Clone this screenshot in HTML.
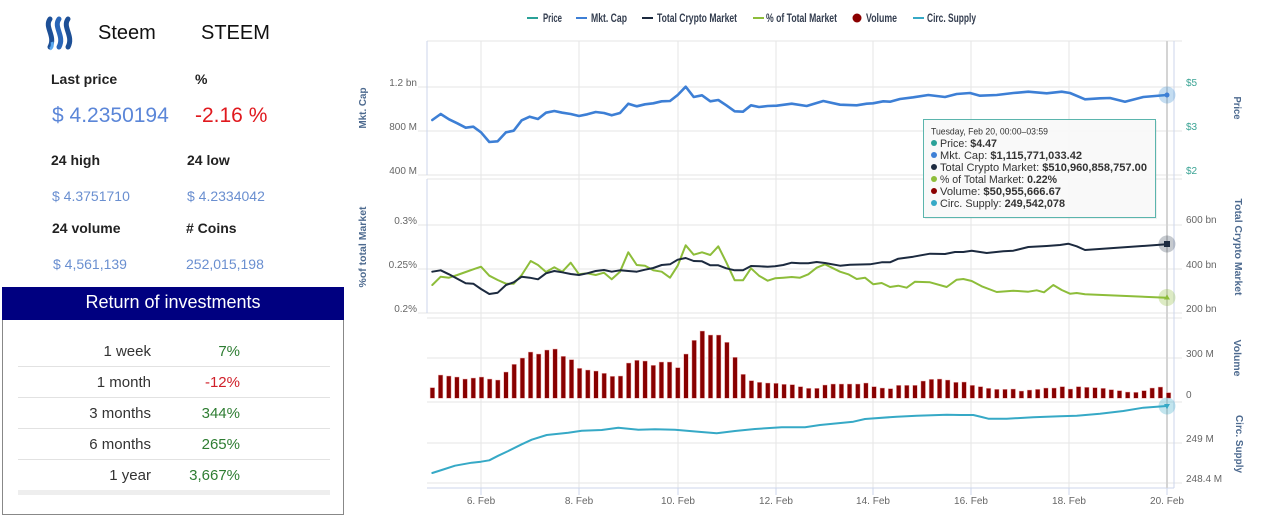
<!DOCTYPE html>
<html><head><meta charset="utf-8">
<style>
html,body{margin:0;padding:0;background:#fff;}
body{width:1262px;height:530px;position:relative;overflow:hidden;font-family:"Liberation Sans",Arial,sans-serif;}
.a{position:absolute;white-space:nowrap;line-height:1;}
.b{font-weight:bold;color:#222;font-size:14px;}
.blue{color:#6a8fd0;font-size:14px;}
.row{position:absolute;left:18px;width:312px;height:31px;border-bottom:1px solid #e2e2e2;}
.row .k{position:absolute;right:179px;top:8px;font-size:15px;color:#333;}
.row .v{position:absolute;right:90px;top:8px;font-size:15px;color:#2e7d32;}
</style></head><body>

<svg class="a" style="left:40px;top:14px" width="44" height="40" viewBox="0 0 44 40">
<path d="M10 5 C4 13,16 22,10 33" stroke="#1d4f96" stroke-width="5" fill="none" stroke-linecap="round"/>
<path d="M19 5 C13 13,25 22,19 33" stroke="#2a66b8" stroke-width="5" fill="none" stroke-linecap="round"/>
<path d="M28 5 C22 13,34 22,28 33" stroke="#1d4f96" stroke-width="5" fill="none" stroke-linecap="round"/>
<path d="M12 28 C13 31,12 34,10 35" stroke="#58a8f0" stroke-width="3" fill="none"/>
</svg>
<div class="a" style="left:98px;top:23px;font-size:20px;color:#111;">Steem</div>
<div class="a" style="left:201px;top:23px;font-size:20px;color:#111;">STEEM</div>

<div class="a b" style="left:51px;top:72px;">Last price</div>
<div class="a b" style="left:195px;top:72px;">%</div>
<div class="a" style="left:52px;top:105px;font-size:21px;color:#5b86d8;">$ 4.2350194</div>
<div class="a" style="left:195px;top:105px;font-size:21px;color:#e0191e;">-2.16 %</div>

<div class="a b" style="left:51px;top:153px;">24 high</div>
<div class="a b" style="left:187px;top:153px;">24 low</div>
<div class="a blue" style="left:52px;top:189px;">$ 4.3751710</div>
<div class="a blue" style="left:187px;top:189px;">$ 4.2334042</div>

<div class="a b" style="left:52px;top:221px;">24 volume</div>
<div class="a b" style="left:186px;top:221px;">&#35; Coins</div>
<div class="a blue" style="left:53px;top:257px;">$ 4,561,139</div>
<div class="a blue" style="left:186px;top:257px;">252,015,198</div>

<div class="a" style="left:2px;top:287px;width:340px;height:227px;border:1px solid #888;border-top:none;"></div>
<div class="a" style="left:2px;top:287px;width:342px;height:33px;background:#000080;"></div>
<div class="a" style="left:2px;top:293px;width:342px;text-align:center;font-size:18px;color:#fff;">Return of investments</div>

<div class="row" style="top:335px;"><span class="k">1 week</span><span class="v">7%</span></div>
<div class="row" style="top:366px;"><span class="k">1 month</span><span class="v" style="color:#d0202a">-12%</span></div>
<div class="row" style="top:397px;"><span class="k">3 months</span><span class="v">344%</span></div>
<div class="row" style="top:428px;"><span class="k">6 months</span><span class="v">265%</span></div>
<div class="row" style="top:459px;"><span class="k">1 year</span><span class="v">3,667%</span></div>
<div class="a" style="left:18px;top:490px;width:312px;height:5px;background:#eeeeee;"></div>

<svg class="a" style="left:0;top:0" width="1262" height="530" viewBox="0 0 1262 530" font-family="Liberation Sans, Arial, sans-serif">
<!-- legend -->
<g font-size="11.5" font-weight="bold" fill="#333d4f">
<line x1="527" y1="18" x2="538" y2="18" stroke="#2aa198" stroke-width="2"/>
<text x="543" y="22" textLength="19" lengthAdjust="spacingAndGlyphs">Price</text>
<line x1="576" y1="18" x2="587" y2="18" stroke="#3d7fd5" stroke-width="2"/>
<text x="591" y="22" textLength="36" lengthAdjust="spacingAndGlyphs">Mkt. Cap</text>
<line x1="642" y1="18" x2="653" y2="18" stroke="#1c2a3f" stroke-width="2"/>
<text x="657" y="22" textLength="80" lengthAdjust="spacingAndGlyphs">Total Crypto Market</text>
<line x1="753" y1="18" x2="764" y2="18" stroke="#8dbd3a" stroke-width="2"/>
<text x="766" y="22" textLength="71" lengthAdjust="spacingAndGlyphs">% of Total Market</text>
<circle cx="857" cy="18" r="4.5" fill="#8b0000"/>
<text x="866" y="22" textLength="31" lengthAdjust="spacingAndGlyphs">Volume</text>
<line x1="913" y1="18" x2="924" y2="18" stroke="#36a9c6" stroke-width="2"/>
<text x="927" y="22" textLength="49" lengthAdjust="spacingAndGlyphs">Circ. Supply</text>
</g>

<!-- grid -->
<g stroke="#e6e6e6" stroke-width="1">
<line x1="427" y1="41" x2="1182" y2="41"/>
<line x1="418" y1="87" x2="1182" y2="87"/>
<line x1="418" y1="131" x2="1182" y2="131"/>
<line x1="418" y1="175" x2="1182" y2="175"/>
<line x1="427" y1="179" x2="1182" y2="179"/>
<line x1="418" y1="225" x2="1182" y2="225"/>
<line x1="418" y1="269" x2="1182" y2="269"/>
<line x1="418" y1="313" x2="1182" y2="313"/>
<line x1="427" y1="318" x2="1182" y2="318"/>
<line x1="427" y1="358" x2="1182" y2="358"/>
<line x1="427" y1="402" x2="1182" y2="402"/>
<line x1="427" y1="443" x2="1182" y2="443"/>
<line x1="427" y1="483" x2="1182" y2="483"/>
<line x1="481" y1="41" x2="481" y2="488"/>
<line x1="579" y1="41" x2="579" y2="488"/>
<line x1="678" y1="41" x2="678" y2="488"/>
<line x1="776" y1="41" x2="776" y2="488"/>
<line x1="873" y1="41" x2="873" y2="488"/>
<line x1="971" y1="41" x2="971" y2="488"/>
<line x1="1069" y1="41" x2="1069" y2="488"/>
</g>
<g stroke="#ccd6eb" stroke-width="1">
<line x1="427" y1="41" x2="427" y2="175"/>
<line x1="427" y1="179" x2="427" y2="313"/>
<line x1="1174" y1="41" x2="1174" y2="488"/>
<line x1="427" y1="488" x2="1174" y2="488"/>
<line x1="481" y1="488" x2="481" y2="495"/>
<line x1="579" y1="488" x2="579" y2="495"/>
<line x1="678" y1="488" x2="678" y2="495"/>
<line x1="776" y1="488" x2="776" y2="495"/>
<line x1="873" y1="488" x2="873" y2="495"/>
<line x1="971" y1="488" x2="971" y2="495"/>
<line x1="1069" y1="488" x2="1069" y2="495"/>
<line x1="1167" y1="488" x2="1167" y2="495"/>
</g>
<!-- crosshair -->
<line x1="1167" y1="41" x2="1167" y2="488" stroke="#d4d4d4" stroke-width="2"/>

<!-- axis labels -->
<g font-size="10" fill="#666">
<text x="417" y="86" text-anchor="end">1.2 bn</text>
<text x="417" y="130" text-anchor="end">800 M</text>
<text x="417" y="174" text-anchor="end">400 M</text>
<text x="417" y="224" text-anchor="end">0.3%</text>
<text x="417" y="268" text-anchor="end">0.25%</text>
<text x="417" y="312" text-anchor="end">0.2%</text>
<text x="1186" y="223">600 bn</text>
<text x="1186" y="268">400 bn</text>
<text x="1186" y="312">200 bn</text>
<text x="1186" y="357">300 M</text>
<text x="1186" y="398">0</text>
<text x="1186" y="442">249 M</text>
<text x="1186" y="482">248.4 M</text>
<text x="481" y="504" text-anchor="middle">6. Feb</text>
<text x="579" y="504" text-anchor="middle">8. Feb</text>
<text x="678" y="504" text-anchor="middle">10. Feb</text>
<text x="776" y="504" text-anchor="middle">12. Feb</text>
<text x="873" y="504" text-anchor="middle">14. Feb</text>
<text x="971" y="504" text-anchor="middle">16. Feb</text>
<text x="1069" y="504" text-anchor="middle">18. Feb</text>
<text x="1167" y="504" text-anchor="middle">20. Feb</text>
</g>
<g font-size="10" fill="#3aa394">
<text x="1186" y="86">$5</text>
<text x="1186" y="130">$3</text>
<text x="1186" y="174">$2</text>
</g>
<!-- axis titles -->
<g font-size="10" font-weight="bold" fill="#4d6a8f">
<text transform="translate(366,108) rotate(-90)" text-anchor="middle" textLength="41" lengthAdjust="spacingAndGlyphs">Mkt. Cap</text>
<text transform="translate(366,247) rotate(-90)" text-anchor="middle" textLength="81" lengthAdjust="spacingAndGlyphs">%of total Market</text>
<text transform="translate(1234,108) rotate(90)" text-anchor="middle" textLength="23" lengthAdjust="spacingAndGlyphs">Price</text>
<text transform="translate(1235,247) rotate(90)" text-anchor="middle" textLength="97" lengthAdjust="spacingAndGlyphs">Total Crypto Market</text>
<text transform="translate(1234,358) rotate(90)" text-anchor="middle" textLength="37" lengthAdjust="spacingAndGlyphs">Volume</text>
<text transform="translate(1236,444) rotate(90)" text-anchor="middle" textLength="58" lengthAdjust="spacingAndGlyphs">Circ. Supply</text>
</g>

<!-- volume bars -->
<g fill="#880000" stroke="#f2b8b8" stroke-width="0.5">
<rect x="430.1" y="387.6" width="4.6" height="10.7"/>
<rect x="438.3" y="375.0" width="4.6" height="23.3"/>
<rect x="446.5" y="376.0" width="4.6" height="22.3"/>
<rect x="454.6" y="377.0" width="4.6" height="21.3"/>
<rect x="462.8" y="379.0" width="4.6" height="19.3"/>
<rect x="471.0" y="378.0" width="4.6" height="20.3"/>
<rect x="479.2" y="377.0" width="4.6" height="21.3"/>
<rect x="487.4" y="379.0" width="4.6" height="19.3"/>
<rect x="495.5" y="380.0" width="4.6" height="18.3"/>
<rect x="503.7" y="372.0" width="4.6" height="26.3"/>
<rect x="511.9" y="364.3" width="4.6" height="34"/>
<rect x="520.1" y="358.0" width="4.6" height="40.3"/>
<rect x="528.3" y="352.0" width="4.6" height="46.3"/>
<rect x="536.4" y="354.0" width="4.6" height="44.3"/>
<rect x="544.6" y="350.0" width="4.6" height="48.3"/>
<rect x="552.8" y="349.0" width="4.6" height="49.3"/>
<rect x="561.0" y="356.3" width="4.6" height="42"/>
<rect x="569.2" y="359.6" width="4.6" height="38.7"/>
<rect x="577.3" y="368.3" width="4.6" height="30"/>
<rect x="585.5" y="370.0" width="4.6" height="28.3"/>
<rect x="593.7" y="371.0" width="4.6" height="27.3"/>
<rect x="601.9" y="373.3" width="4.6" height="25"/>
<rect x="610.1" y="376.3" width="4.6" height="22"/>
<rect x="618.2" y="376.0" width="4.6" height="22.3"/>
<rect x="626.4" y="363.0" width="4.6" height="35.3"/>
<rect x="634.6" y="360.3" width="4.6" height="38"/>
<rect x="642.8" y="361.0" width="4.6" height="37.3"/>
<rect x="651.0" y="365.3" width="4.6" height="33"/>
<rect x="659.1" y="362.0" width="4.6" height="36.3"/>
<rect x="667.3" y="362.0" width="4.6" height="36.3"/>
<rect x="675.5" y="367.6" width="4.6" height="30.7"/>
<rect x="683.7" y="354.0" width="4.6" height="44.3"/>
<rect x="691.9" y="340.3" width="4.6" height="58"/>
<rect x="700.0" y="331.0" width="4.6" height="67.3"/>
<rect x="708.2" y="335.0" width="4.6" height="63.3"/>
<rect x="716.4" y="335.0" width="4.6" height="63.3"/>
<rect x="724.6" y="342.3" width="4.6" height="56"/>
<rect x="732.8" y="357.3" width="4.6" height="41"/>
<rect x="740.9" y="374.3" width="4.6" height="24"/>
<rect x="749.1" y="380.6" width="4.6" height="17.7"/>
<rect x="757.3" y="382.3" width="4.6" height="16"/>
<rect x="765.5" y="383.0" width="4.6" height="15.3"/>
<rect x="773.7" y="383.3" width="4.6" height="15"/>
<rect x="781.8" y="384.3" width="4.6" height="14"/>
<rect x="790.0" y="384.6" width="4.6" height="13.7"/>
<rect x="798.2" y="386.6" width="4.6" height="11.7"/>
<rect x="806.4" y="388.3" width="4.6" height="10"/>
<rect x="814.6" y="388.3" width="4.6" height="10"/>
<rect x="822.7" y="385.0" width="4.6" height="13.3"/>
<rect x="830.9" y="384.0" width="4.6" height="14.3"/>
<rect x="839.1" y="384.0" width="4.6" height="14.3"/>
<rect x="847.3" y="384.0" width="4.6" height="14.3"/>
<rect x="855.5" y="384.0" width="4.6" height="14.3"/>
<rect x="863.6" y="383.0" width="4.6" height="15.3"/>
<rect x="871.8" y="386.6" width="4.6" height="11.7"/>
<rect x="880.0" y="388.0" width="4.6" height="10.3"/>
<rect x="888.2" y="388.6" width="4.6" height="9.7"/>
<rect x="896.4" y="385.3" width="4.6" height="13"/>
<rect x="904.5" y="385.3" width="4.6" height="13"/>
<rect x="912.7" y="385.3" width="4.6" height="13"/>
<rect x="920.9" y="381.0" width="4.6" height="17.3"/>
<rect x="929.1" y="379.3" width="4.6" height="19"/>
<rect x="937.3" y="379.0" width="4.6" height="19.3"/>
<rect x="945.4" y="380.0" width="4.6" height="18.3"/>
<rect x="953.6" y="382.3" width="4.6" height="16"/>
<rect x="961.8" y="382.0" width="4.6" height="16.3"/>
<rect x="970.0" y="385.3" width="4.6" height="13"/>
<rect x="978.2" y="386.6" width="4.6" height="11.7"/>
<rect x="986.3" y="388.3" width="4.6" height="10"/>
<rect x="994.5" y="389.3" width="4.6" height="9"/>
<rect x="1002.7" y="389.3" width="4.6" height="9"/>
<rect x="1010.9" y="389.0" width="4.6" height="9.3"/>
<rect x="1019.1" y="391.0" width="4.6" height="7.3"/>
<rect x="1027.2" y="390.0" width="4.6" height="8.3"/>
<rect x="1035.4" y="389.3" width="4.6" height="9"/>
<rect x="1043.6" y="388.0" width="4.6" height="10.3"/>
<rect x="1051.8" y="388.0" width="4.6" height="10.3"/>
<rect x="1060.0" y="386.6" width="4.6" height="11.7"/>
<rect x="1068.1" y="389.0" width="4.6" height="9.3"/>
<rect x="1076.3" y="386.6" width="4.6" height="11.7"/>
<rect x="1084.5" y="387.3" width="4.6" height="11"/>
<rect x="1092.7" y="387.6" width="4.6" height="10.7"/>
<rect x="1100.9" y="388.3" width="4.6" height="10"/>
<rect x="1109.0" y="389.6" width="4.6" height="8.7"/>
<rect x="1117.2" y="390.6" width="4.6" height="7.7"/>
<rect x="1125.4" y="392.0" width="4.6" height="6.3"/>
<rect x="1133.6" y="392.3" width="4.6" height="6"/>
<rect x="1141.8" y="390.6" width="4.6" height="7.7"/>
<rect x="1149.9" y="388.0" width="4.6" height="10.3"/>
<rect x="1158.1" y="387.0" width="4.6" height="11.3"/>
<rect x="1166.3" y="392.6" width="4.6" height="5.7"/>
</g>

<!-- series -->
<g fill="none" stroke-linejoin="round" stroke-linecap="round">
<polyline stroke="#3d7fd5" stroke-width="2.6" points="432.3,120 440.7,114 449,119.3 457.3,123.3 465.7,127.7 473.3,126.7 481,132.3 489.3,142 497.7,141.3 506,132.3 513.7,130.7 521.7,120.3 529.7,116.7 538,119 546,112.7 554.3,111 562.3,112.7 570.7,114 579,116 587.3,114.3 595.7,112 604,113 611.7,115.3 620,113 628.3,103.7 636.7,106.3 645,104.3 653.3,103.3 661.7,101.3 670,101 677.7,95 685.7,86.7 693.7,97 702,95.3 710.3,101.3 718.3,100 726.3,105.3 734.7,111.3 743,111.7 751,105.3 759,107 767.7,106 776.7,105.7 791.7,103.7 806.7,106 823.3,101 840,104.7 856.7,105.3 866.7,103.7 873,103.3 883.3,101.3 890,101.7 900,99 913.3,97.3 928.3,95 945,97 956.7,94 970,93 980,95.7 996.7,95 1013.3,93 1028.3,91.7 1046.7,93.3 1061.7,91.7 1070,93 1085,99.3 1100,98.3 1110,98 1125,101.7 1143.3,97 1166.7,95"/>
<polyline stroke="#8dbd3a" stroke-width="2" points="432.3,285 440.7,276.7 449,277.7 457.3,275 465.7,272 473.3,269.3 481,266.7 489.3,275.7 497.7,280 506,283.7 513.7,283.7 521.7,275 530.7,261 538,265 546,272 554.3,267.3 562.3,271.7 570.7,262.7 579,274.3 587.3,273.3 595.7,275 604,272.7 611.7,279.3 620,271.7 628.3,252.3 636.7,265 645,265.7 653.3,270.3 661.7,271.7 670,277.7 677.7,265.7 685.7,245.3 693.7,254.7 702,252.3 710.3,255 718.3,246.3 726.3,262.3 734.7,280.3 743,280.3 751,268.3 759,275.7 767.7,280.7 775,278.3 783.3,277.7 791.7,277 800,277.7 808.3,274.3 816.7,267.7 825,264.3 840,271.7 848.3,274.3 856.7,279 865,277.7 873.3,284.3 881.7,283 890,287 898.3,285.7 906.7,287.7 915,281.7 930,282.3 946.7,287 956.7,279.7 963.3,279 971.7,281 981.7,286.3 996.7,292 1013.3,290.7 1028.3,291.7 1036.7,290.3 1044,292.3 1053.3,285 1061.7,290 1070,293.7 1076.7,293 1085,294.3 1166.7,297.7"/>
<polyline stroke="#1c2a3f" stroke-width="2" points="432.3,271.7 440.7,270.3 449,274.3 457.3,278.7 465.7,283.3 473.3,283.7 481,289 489.3,294 497.7,292.7 506,285 513.7,282.3 521.7,276.7 529.7,277.7 538,279.3 546,273.3 554.3,271 562.3,272.3 570.7,274 579,275 587.3,273.3 595.7,271 604,270 611.7,271.7 620,270.3 628.3,271 636.7,271.7 645,269.7 653.3,268 661.7,265 670,264.3 677.7,259.7 685.7,258 693.7,261 702,261.3 710.3,265.3 718.3,265.3 726.3,268.3 734.7,270.3 743,270.3 751,266 759,266.3 767.7,266.7 775,266.3 783.3,265 791.7,262.7 800,263.3 808.3,263.3 816.7,262 825,263 840,265.7 850,264.7 870,264.3 881.7,262.3 890,262.3 898.3,258.7 913.3,256.7 930,253.7 945,254 955,252 963.3,252 971.7,250.7 986.7,253 1003.3,251.3 1013.3,250.7 1028.3,247 1046.7,246 1060,245 1068.3,243.7 1076.7,246.3 1085,250 1166.7,244.3"/>
<polyline stroke="#36a9c6" stroke-width="2" points="432.3,473 441.7,470 455,465.7 471.7,462.7 481,461.7 489.3,460.3 498.3,455.7 508.3,451 521.7,444.3 531.7,439.7 546.7,435 568.3,432.7 581.7,430.7 601.7,430 618.3,427.7 638.3,429.7 655,429.3 675,429.7 698.3,431.7 716.7,433.3 735,431 755,429 781.7,427.3 805,427.3 820,425 853.3,421.7 865,419 896.7,416.7 916.7,415.7 946.7,414.7 960,415 973.3,415 981.7,417 988.3,418.7 1006.7,418.7 1033.3,417.3 1060,416.3 1076.7,415.7 1100,413.7 1123.3,411 1143.3,407.7 1166.7,406"/>
</g>

<!-- hover markers -->
<circle cx="1167" cy="95" r="8.5" fill="#3d8fd0" fill-opacity="0.3"/>
<circle cx="1167" cy="95" r="2.5" fill="#3d7fd5"/>
<circle cx="1167" cy="244" r="8.5" fill="#1c2a3f" fill-opacity="0.25"/>
<rect x="1164" y="241" width="6" height="6" fill="#1c2a3f"/>
<circle cx="1167" cy="297.5" r="8.5" fill="#8dbd3a" fill-opacity="0.3"/>
<path d="M1167 294.5 L1170 299.5 L1164 299.5 Z" fill="#8dbd3a"/>
<circle cx="1167" cy="406" r="8.5" fill="#36a9c6" fill-opacity="0.3"/>
<path d="M1164 404 L1170 404 L1167 409 Z" fill="#36a9c6"/>

<!-- tooltip -->
<rect x="925" y="121" width="232" height="98" fill="#000" fill-opacity="0.06"/>
<rect x="923.5" y="119.5" width="232" height="98" fill="#f9f9f9" fill-opacity="0.95" stroke="#5bb5ad" stroke-width="1"/>
<g font-size="11" fill="#333">
<text x="931" y="134.5" font-size="9.5" textLength="117" lengthAdjust="spacingAndGlyphs">Tuesday, Feb 20, 00:00–03:59</text>
<circle cx="934" cy="143" r="3" fill="#2aa198"/>
<text x="940" y="147" textLength="57" lengthAdjust="spacingAndGlyphs">Price: <tspan font-weight="bold">$4.47</tspan></text>
<circle cx="934" cy="155" r="3" fill="#3d7fd5"/>
<text x="940" y="159" textLength="142" lengthAdjust="spacingAndGlyphs">Mkt. Cap: <tspan font-weight="bold">$1,115,771,033.42</tspan></text>
<circle cx="934" cy="167" r="3" fill="#1c2a3f"/>
<text x="940" y="171" textLength="207" lengthAdjust="spacingAndGlyphs">Total Crypto Market: <tspan font-weight="bold">$510,960,858,757.00</tspan></text>
<circle cx="934" cy="179" r="3" fill="#8dbd3a"/>
<text x="940" y="183" textLength="117" lengthAdjust="spacingAndGlyphs">% of Total Market: <tspan font-weight="bold">0.22%</tspan></text>
<circle cx="934" cy="191" r="3" fill="#8b0000"/>
<text x="940" y="195" textLength="121" lengthAdjust="spacingAndGlyphs">Volume: <tspan font-weight="bold">$50,955,666.67</tspan></text>
<circle cx="934" cy="203" r="3" fill="#36a9c6"/>
<text x="940" y="207" textLength="125" lengthAdjust="spacingAndGlyphs">Circ. Supply: <tspan font-weight="bold">249,542,078</tspan></text>
</g>
</svg>
</body></html>
